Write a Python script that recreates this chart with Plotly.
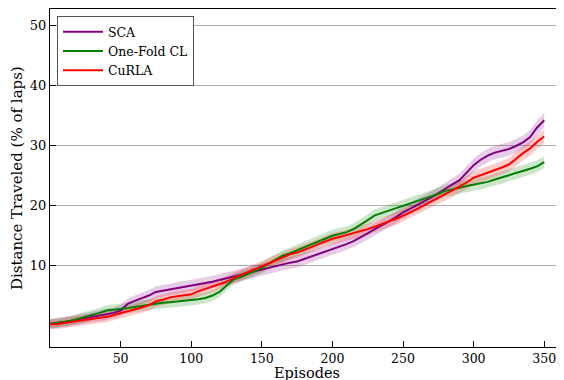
import plotly.graph_objects as go

episodes = list(range(0, 351, 5))

sca = [0.2, 0.3, 0.5, 0.7, 0.9, 1.1, 1.3, 1.5, 1.7, 2.0,
       2.4, 3.5, 4.0, 4.4, 4.9, 5.5, 5.7, 5.9, 6.1, 6.3,
       6.5, 6.8, 7.0, 7.2, 7.5, 7.8, 8.1, 8.4, 8.7, 9.0,
       9.3, 9.5, 9.8, 10.1, 10.4, 10.6, 11.0, 11.5, 11.9, 12.3,
       12.7, 13.1, 13.5, 14.0, 14.6, 15.3, 16.0, 16.6, 17.3, 18.0,
       18.8, 19.4, 20.0, 20.7, 21.3, 22.0, 22.8, 23.5, 24.2, 25.5,
       26.7, 27.6, 28.3, 28.8, 29.1, 29.4, 29.9, 30.5, 31.4, 33.0,
       34.2]
onefold = [0.2, 0.3, 0.5, 0.7, 1.0, 1.3, 1.6, 2.0, 2.4, 2.5,
           2.6, 2.8, 3.0, 3.2, 3.4, 3.5, 3.7, 3.8, 3.9, 4.0,
           4.1, 4.3, 4.5, 4.9, 5.5, 6.6, 7.6, 8.0, 8.5, 9.0,
           9.5, 10.3, 11.0, 11.6, 12.0, 12.5, 12.9, 13.4, 14.0, 14.5,
           14.9, 15.2, 15.5, 16.0, 16.7, 17.5, 18.3, 18.7, 19.0, 19.4,
           19.8, 20.3, 20.7, 21.0, 21.4, 21.9, 22.4, 22.6, 22.9, 23.2,
           23.4, 23.6, 23.9, 24.3, 24.6, 25.0, 25.4, 25.7, 26.1, 26.5,
           27.2]
curla = [0.1, 0.1, 0.3, 0.5, 0.7, 0.8, 1.0, 1.2, 1.3, 1.6,
         2.0, 2.3, 2.6, 2.9, 3.3, 3.9, 4.2, 4.6, 4.8, 5.0,
         5.1, 5.6, 6.0, 6.3, 6.7, 7.2, 7.8, 8.3, 8.8, 9.3,
         9.8, 10.3, 10.8, 11.3, 11.8, 12.1, 12.5, 13.0, 13.5, 14.0,
         14.4, 14.7, 15.0, 15.3, 15.6, 16.0, 16.4, 16.9, 17.3, 17.7,
         18.2, 18.8, 19.4, 20.0, 20.7, 21.3, 21.8, 22.5, 23.1, 23.8,
         24.6, 25.0, 25.4, 25.8, 26.3, 26.8, 27.8, 28.7, 29.5, 30.6,
         31.5]

# band half-widths, sampled every 50 episodes (0..350)
band_eps = [0, 50, 100, 150, 200, 250, 300, 350]
sca_spread = [0.8, 0.9, 1.0, 1.0, 1.0, 1.0, 1.1, 1.2]
onefold_spread = [0.8, 0.9, 0.9, 0.9, 1.0, 1.0, 1.0, 1.0]
curla_spread = [0.8, 0.9, 0.9, 0.9, 0.9, 1.0, 1.1, 1.2]

x_ticks = [50, 100, 150, 200, 250, 300, 350]
y_ticks = [10, 20, 30, 40, 50]

def spread_at(ep, spreads):
    for i in range(len(band_eps) - 1):
        if band_eps[i] <= ep <= band_eps[i + 1]:
            t = (ep - band_eps[i]) / (band_eps[i + 1] - band_eps[i])
            return spreads[i] + t * (spreads[i + 1] - spreads[i])
    return spreads[-1]

series = [
    ("SCA", sca, sca_spread, "#800080", "rgba(128,0,128,0.2)"),
    ("One-Fold CL", onefold, onefold_spread, "#008000", "rgba(0,128,0,0.2)"),
    ("CuRLA", curla, curla_spread, "#ff0000", "rgba(255,0,0,0.2)"),
]

fig = go.Figure()
for name, vals, spr, col, fill in series:
    up = [v + spread_at(e, spr) for e, v in zip(episodes, vals)]
    lo = [v - spread_at(e, spr) for e, v in zip(episodes, vals)]
    fig.add_trace(go.Scatter(x=episodes + episodes[::-1], y=up + lo[::-1],
                             fill="toself", fillcolor=fill, line=dict(width=0),
                             hoverinfo="skip", showlegend=False))
for name, vals, spr, col, fill in series:
    fig.add_trace(go.Scatter(x=episodes, y=vals, mode="lines", name=name,
                             line=dict(color=col, width=2)))

font = "DejaVu Serif"
# the page body adds an 8px offset, so margins are set to compensate
fig.update_layout(
    width=564, height=380,
    margin=dict(l=42, r=8, t=1, b=41, autoexpand=False),
    plot_bgcolor="white", paper_bgcolor="white",
    font=dict(family=font, size=13, color="black"),
    legend=dict(x=0.0136, y=0.979, xanchor="left", yanchor="top",
                bgcolor="white", bordercolor="#555", borderwidth=1,
                font=dict(family=font, size=12.5), tracegroupgap=0,
                itemwidth=40),
    xaxis=dict(range=[0, 364], tickvals=x_ticks, showgrid=False, automargin=False,
               showline=True, linecolor="black", linewidth=1.2, mirror=True,
               ticks="inside", ticklen=6, tickcolor="black",
               tickfont=dict(family=font, size=12.5), zeroline=False),
    yaxis=dict(range=[-3.7, 52.8], tickvals=y_ticks, showgrid=True, automargin=False,
               gridcolor="#b0b0b0", gridwidth=1,
               showline=True, linecolor="black", linewidth=1.2,
               ticks="inside", ticklen=6, tickcolor="black",
               tickfont=dict(family=font, size=13), zeroline=False),
    annotations=[
        dict(text="Episodes", xref="paper", yref="paper", x=0.5, y=-0.0755,
             xanchor="center", yanchor="middle", showarrow=False,
             font=dict(family=font, size=14.5)),
        dict(text="Distance Traveled (% of laps)", xref="paper", yref="paper",
             x=-0.064, y=0.5, xanchor="center", yanchor="middle", showarrow=False,
             textangle=-90, font=dict(family=font, size=15)),
    ],
)

fig.write_html("out.html")
